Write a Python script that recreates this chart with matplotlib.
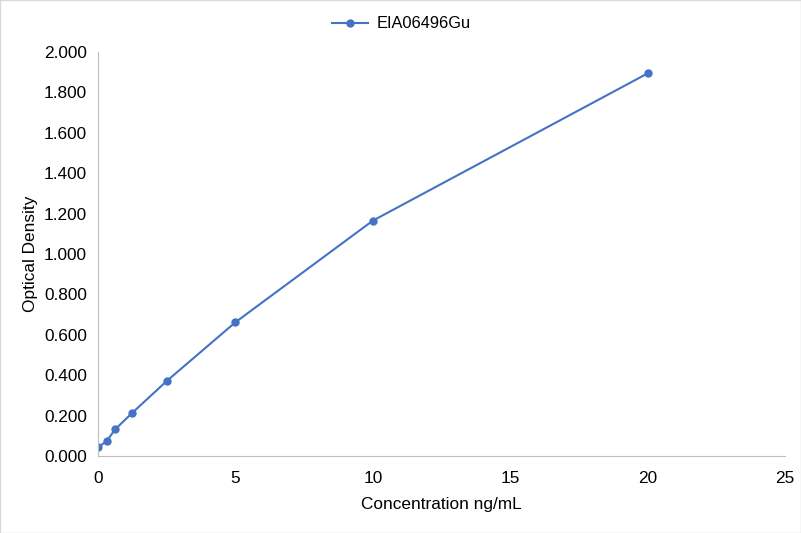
import matplotlib
matplotlib.use("Agg")
import matplotlib.pyplot as plt
from matplotlib.ticker import FormatStrFormatter

conc = [0, 0.3125, 0.625, 1.25, 2.5, 5, 10, 20]
od = [0.043, 0.073, 0.132, 0.214, 0.371, 0.662, 1.165, 1.894]
series_name = "EIA06496Gu"

plt.rcParams['font.family'] = ['Liberation Sans', 'DejaVu Sans']
FS = 12.4

fig = plt.figure(figsize=(8.01, 5.33), dpi=100)
ax = fig.add_axes([98/801, 1-456/533, (785-98)/801, (456-52)/533])
color = '#4472C4'
ax.plot(conc, od, color=color, linewidth=1.5, marker='o', markersize=5, label=series_name)
ax.set_xlim(0, 25)
ax.set_ylim(0, 2.0)
ax.set_xticks([0, 5, 10, 15, 20, 25])
ax.set_yticks([0, 0.2, 0.4, 0.6, 0.8, 1.0, 1.2, 1.4, 1.6, 1.8, 2.0])
ax.yaxis.set_major_formatter(FormatStrFormatter('%.3f'))
for s in ['top', 'right']:
    ax.spines[s].set_visible(False)
for s in ['left', 'bottom']:
    ax.spines[s].set_color('#BFBFBF')
ax.tick_params(axis='both', length=0, labelsize=FS, colors='#000000')
ax.tick_params(axis='y', pad=8)
ax.tick_params(axis='x', pad=11)
ax.set_xlabel('Concentration ng/mL', fontsize=FS, labelpad=8)
ax.set_ylabel('Optical Density', fontsize=FS, labelpad=4)
leg = ax.legend(loc='center', bbox_to_anchor=(401.5/801, 1-24/533), bbox_transform=fig.transFigure,
                frameon=False, fontsize=11.8, handlelength=2.2, handletextpad=0.5)

fig.patches.append(plt.Rectangle((0, 0), 1, 1, transform=fig.transFigure, fill=False, edgecolor='#D9D9D9', linewidth=1))
fig.savefig('out.png', dpi=100)
